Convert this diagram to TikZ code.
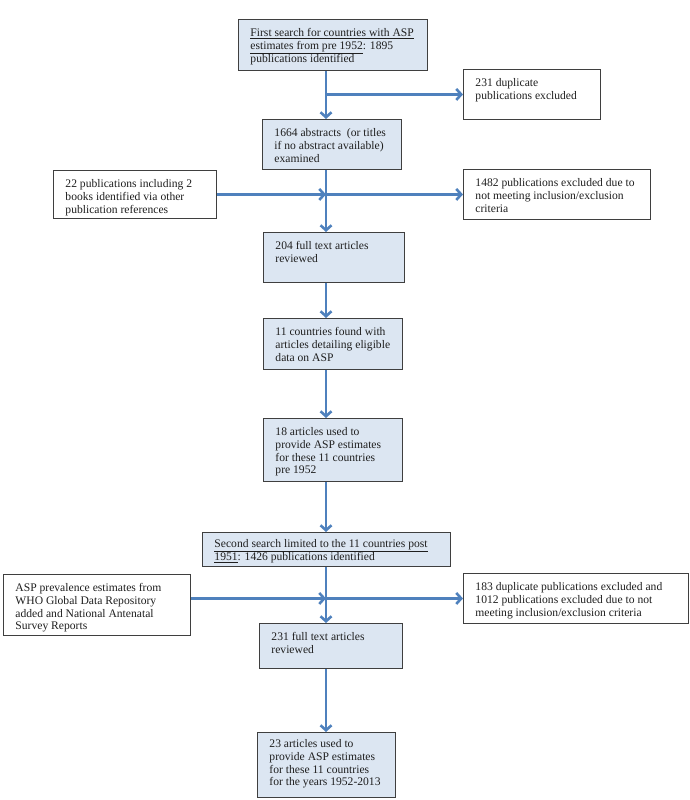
\documentclass[tikz,border=0pt]{standalone}
\usepackage{fontspec}
\setmainfont{Liberation Serif}
\usepackage{xcolor}
\usetikzlibrary{arrows.meta}

\definecolor{flowblue}{HTML}{4F81BD}
\definecolor{boxfill}{HTML}{DCE6F2}
\definecolor{boxline}{HTML}{3F3F3F}

% text block of a box: width, height, lines
\newcommand{\boxtxt}[3]{\parbox[t][#2pt][t]{#1pt}{\begin{tabular}[t]{@{}l@{}}#3\end{tabular}}}

\tikzset{
  flowbox/.style={draw=boxline, line width=0.9pt, fill=boxfill, anchor=north west,
    inner xsep=12pt, inner ysep=8pt, font=\fontsize{11.6}{12.8}\selectfont, text=black!88},
  sidebox/.style={flowbox, fill=white},
  flow/.style={draw=flowblue, line width=2.6pt, -{Straight Barb[length=5pt,width=11pt]}},
}

\begin{document}
\begin{tikzpicture}[x=1pt,y=-1pt]
\useasboundingbox (0,0) rectangle (690,800);
\coordinate (spine) at (326,0);

%Boxes
\node[flowbox] (first) at (238,19) {\boxtxt{165}{35}{\underline{First search for countries with ASP}\\ \underline{estimates from pre 1952}: 1895\\ publications identified}};
\node[sidebox] (dup) at (463,69) {\boxtxt{113}{34}{231 duplicate\\ publications excluded}};
\node[flowbox] (abstracts) at (262,119) {\boxtxt{115}{34}{1664 abstracts~ (or titles\\ if no abstract available)\\ examined}};
\node[sidebox] (other) at (53,170) {\boxtxt{139}{32}{22 publications including 2\\ books identified via other\\ publication references}};
\node[sidebox] (excl1) at (463,169) {\boxtxt{163}{34}{1482 publications excluded due to\\ not meeting inclusion/exclusion\\ criteria}};
\node[flowbox] (full1) at (263,232) {\boxtxt{117}{34}{204 full text articles\\ reviewed}};
\node[flowbox] (countries) at (263,318) {\boxtxt{115}{35}{11 countries found with\\ articles detailing eligible\\ data on ASP}};
\node[flowbox] (articles) at (263,418) {\boxtxt{115}{47}{18 articles used to\\ provide ASP estimates\\ for these 11 countries\\ pre 1952}};
\node[flowbox, inner ysep=6pt] (second) at (202,532) {\boxtxt{224}{22}{\underline{Second search limited to the 11 countries post}\\ \underline{1951}: 1426 publications identified}};
\node[sidebox] (asp) at (3,574) {\boxtxt{163}{45}{ASP prevalence estimates from\\ WHO Global Data Repository\\ added and National Antenatal\\ Survey Reports}};
\node[sidebox] (excl2) at (463,573) {\boxtxt{201}{34}{183 duplicate publications excluded and\\ 1012 publications excluded due to not\\ meeting inclusion/exclusion criteria}};
\node[flowbox] (full2) at (259,623) {\boxtxt{119}{29}{231 full text articles\\ reviewed}};
\node[flowbox, inner ysep=6pt] (final) at (257,732) {\boxtxt{114}{53}{23 articles used to\\ provide ASP estimates\\ for these 11 countries\\ for the years 1952-2013}};

%Junctions on the spine
\coordinate (j1) at (spine |- dup.west);
\coordinate (j2) at (spine |- excl1.west);
\coordinate (j3) at (spine |- excl2.west);

%Arrows
\draw[flow] (first.south -| spine) -- (abstracts.north -| spine);
\draw[flow] (j1) -- (dup.west);
\draw[flow] (abstracts.south -| spine) -- (full1.north -| spine);
\draw[flow] (other.east) -- (j2);
\draw[flow] (j2) -- (excl1.west);
\draw[flow] (full1.south -| spine) -- (countries.north -| spine);
\draw[flow] (countries.south -| spine) -- (articles.north -| spine);
\draw[flow] (articles.south -| spine) -- (second.north -| spine);
\draw[flow] (second.south -| spine) -- (full2.north -| spine);
\draw[flow] (asp.east |- j3) -- (j3);
\draw[flow] (j3) -- (excl2.west);
\draw[flow] (full2.south -| spine) -- (final.north -| spine);
\end{tikzpicture}
\end{document}
